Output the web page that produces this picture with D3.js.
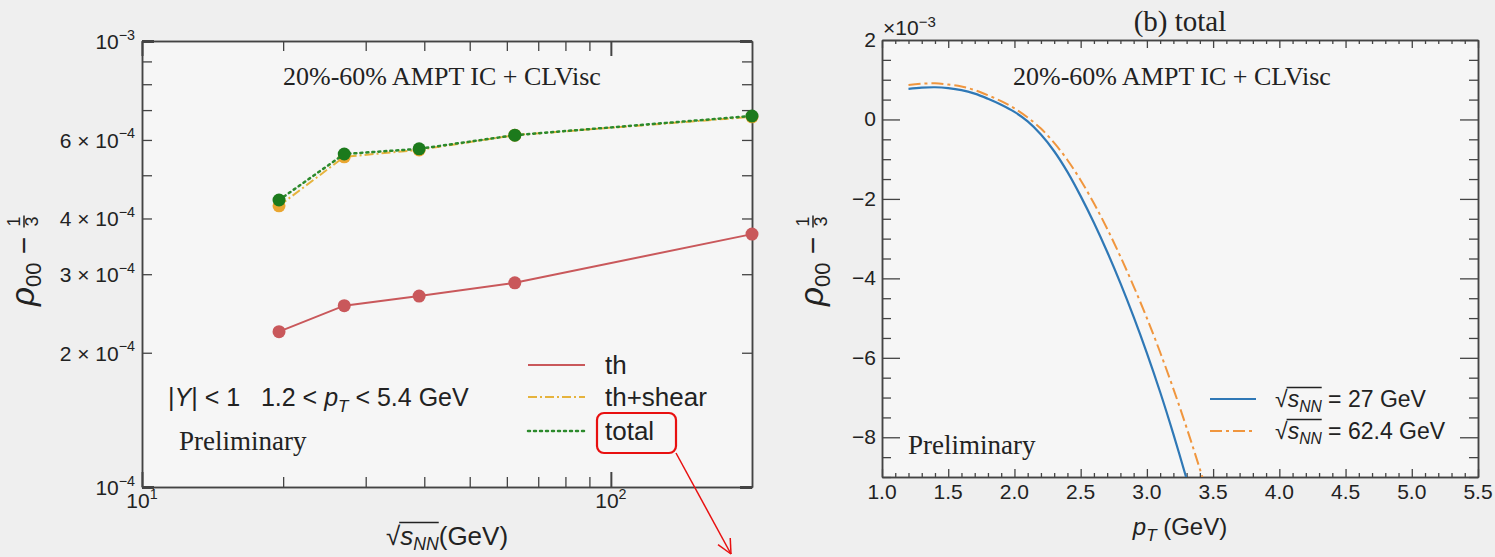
<!DOCTYPE html>
<html>
<head>
<meta charset="utf-8">
<script src="https://cdn.jsdelivr.net/npm/d3@7"></script>
<style>
  html, body { margin: 0; padding: 0; background: #efefef; }
  svg { display: block; }
  .sans { font-family: "Liberation Sans", Arial, sans-serif; fill: #222; }
  .serif { font-family: "Liberation Serif", "Times New Roman", serif; fill: #222; }
</style>
</head>
<body>
<svg id="chart" width="1495" height="557"></svg>
<script>
// ---- Panel (a): rho00 - 1/3 versus collision energy (log-log) ----
const energies   = [19.6, 27, 39, 62.4, 200];
const rhoTh      = [2.23e-4, 2.55e-4, 2.68e-4, 2.87e-4, 3.69e-4];
const rhoThShear = [4.27e-4, 5.50e-4, 5.70e-4, 6.15e-4, 6.76e-4];
const rhoTotal   = [4.40e-4, 5.58e-4, 5.73e-4, 6.15e-4, 6.79e-4];
const seriesNames = ["th", "th+shear", "total"];

const yTicksA = [1e-3, 6e-4, 4e-4, 3e-4, 2e-4, 1e-4];
const yTickLabelsA = [["", "−3"], ["6 × ", "−4"], ["4 × ", "−4"], ["3 × ", "−4"], ["2 × ", "−4"], ["", "−4"]];
const yMinorA = [9e-4, 8e-4, 7e-4, 5e-4];
const xTicksA = [10, 100];
const xTickLabelsA = ["1", "2"];
const xMinorA = [20, 30, 40, 50, 60, 70, 80, 90];

// ---- Panel (b): rho00 - 1/3 versus pT ----
const pT27   = [1.2, 1.3, 1.4, 1.5, 1.6, 1.7, 1.8, 1.9, 2.0, 2.1, 2.2, 2.3, 2.4, 2.5, 2.6, 2.7, 2.8, 2.9, 3.0, 3.1, 3.2, 3.3];
const rho27  = [0.77, 0.80, 0.81, 0.79, 0.74, 0.65, 0.52, 0.37, 0.19, -0.05, -0.38, -0.80, -1.32, -1.93, -2.6, -3.33, -4.12, -4.97, -5.88, -6.86, -7.92, -9.05];
const pT62   = [1.2, 1.3, 1.4, 1.5, 1.6, 1.7, 1.8, 1.9, 2.0, 2.1, 2.2, 2.3, 2.4, 2.5, 2.6, 2.7, 2.8, 2.9, 3.0, 3.1, 3.2, 3.3, 3.4, 3.5];
const rho62  = [0.87, 0.90, 0.91, 0.88, 0.83, 0.74, 0.61, 0.46, 0.28, 0.05, -0.23, -0.59, -1.02, -1.53, -2.11, -2.75, -3.45, -4.2, -5.0, -5.86, -6.78, -7.76, -8.8, -9.9];
const energyLabels = ["27 GeV", "62.4 GeV"];

const yTicksB = [2, 0, -2, -4, -6, -8];
const xTicksB = [1.0, 1.5, 2.0, 2.5, 3.0, 3.5, 4.0, 4.5, 5.0, 5.5];

const svg = d3.select("#chart");
const axisColor = "#444";

// plot frames
const A = { left: 142, right: 752, top: 41, bottom: 487 };
const B = { left: 882, right: 1478, top: 40, bottom: 477 };

const xA = d3.scaleLog().domain([10, 200]).range([A.left, A.right]);
const yA = d3.scaleLog().domain([1e-4, 1e-3]).range([A.bottom, A.top]);
const xB = d3.scaleLinear().domain([1.0, 5.5]).range([B.left, B.right]);
const yB = d3.scaleLinear().domain([-9, 2]).range([B.bottom, B.top]);

[A, B].forEach(P => {
  svg.append("rect").attr("x", P.left).attr("y", P.top)
    .attr("width", P.right - P.left).attr("height", P.bottom - P.top)
    .attr("fill", "#f6f6f6");
});

// draws a set of inward ticks with a d3 axis generator
function ticks(axisGen, tx, ty, width) {
  const g = svg.append("g").attr("transform", `translate(${tx},${ty})`).call(axisGen);
  g.selectAll("text").remove();
  g.select(".domain").attr("stroke", axisColor).attr("stroke-width", 1.5);
  g.selectAll(".tick line").attr("stroke", axisColor).attr("stroke-width", width || 1.3);
  return g;
}

// ---- panel (a) axes ----
const yRegA = yMinorA.concat([6e-4, 4e-4, 3e-4, 2e-4]);
ticks(d3.axisLeft(yA).tickValues(yRegA).tickSize(-10).tickSizeOuter(0).tickFormat(""), A.left, 0);
ticks(d3.axisRight(yA).tickValues(yRegA).tickSize(-10).tickSizeOuter(0).tickFormat(""), A.right, 0);
ticks(d3.axisLeft(yA).tickValues([1e-3, 1e-4]).tickSize(-12).tickSizeOuter(0).tickFormat(""), A.left, 0, 3);
ticks(d3.axisRight(yA).tickValues([1e-3, 1e-4]).tickSize(-12).tickSizeOuter(0).tickFormat(""), A.right, 0, 3);
ticks(d3.axisBottom(xA).tickValues(xMinorA).tickSize(-10).tickSizeOuter(0).tickFormat(""), 0, A.bottom);
ticks(d3.axisTop(xA).tickValues(xMinorA).tickSize(-10).tickSizeOuter(0).tickFormat(""), 0, A.top);
ticks(d3.axisBottom(xA).tickValues(xTicksA).tickSize(-15).tickSizeOuter(0).tickFormat(""), 0, A.bottom, 2);
ticks(d3.axisTop(xA).tickValues(xTicksA).tickSize(-15).tickSizeOuter(0).tickFormat(""), 0, A.top, 2);

function sciText(x, y, pre, exp, size, anchor) {
  const t = svg.append("text").attr("class", "sans").attr("x", x).attr("y", y)
    .attr("text-anchor", anchor).style("font-size", size + "px");
  t.append("tspan").text(pre + "10");
  t.append("tspan").attr("dy", -size * 0.45).style("font-size", (size * 0.68) + "px").text(exp);
  return t;
}

yTicksA.forEach((v, i) => {
  sciText(135, yA(v) + 8, yTickLabelsA[i][0], yTickLabelsA[i][1], 21, "end");
});
xTicksA.forEach((v, i) => {
  sciText(xA(v), 508, "", xTickLabelsA[i], 21, "middle");
});

// sqrt(s_NN) label with an overline over s_NN
function sqrtS(g, x, y, size, suffix, anchor) {
  const t = g.append("text").attr("class", "sans").attr("x", x).attr("y", y)
    .attr("text-anchor", anchor || "start").style("font-size", size + "px");
  t.append("tspan").text("√");
  t.append("tspan").style("font-style", "italic").text("s");
  t.append("tspan").style("font-style", "italic").style("font-size", (size * 0.68) + "px")
    .attr("dy", size * 0.2).text("NN");
  t.append("tspan").attr("dy", -size * 0.2).text(suffix);
  const n = t.node();
  const e0 = n.getExtentOfChar(0), e3 = n.getExtentOfChar(3);
  g.append("line")
    .attr("x1", e0.x + e0.width - 1).attr("x2", e3.x + e3.width)
    .attr("y1", e0.y + 1.5).attr("y2", e0.y + 1.5)
    .attr("stroke", "#222").attr("stroke-width", 1.4);
  return t;
}

sqrtS(svg, 447, 545, 26, "(GeV)", "middle");

// rho_00 - 1/3 rotated axis title
function rhoTitle(cx, by) {
  const g = svg.append("g").attr("transform", `translate(${cx},${by}) rotate(-90)`);
  const t = g.append("text").attr("class", "sans").attr("x", 0).attr("y", 0).style("font-size", "33px");
  t.append("tspan").style("font-style", "italic").text("ρ");
  t.append("tspan").style("font-size", "22px").attr("dy", 7).text("00");
  t.append("tspan").attr("dy", -7).style("font-size", "30px").text("\u00a0−\u00a0");
  const len = t.node().getComputedTextLength();
  const fx = len + 7;
  g.append("text").attr("class", "sans").attr("x", fx).attr("y", -14)
    .attr("text-anchor", "middle").style("font-size", "18px").text("1");
  g.append("line").attr("x1", fx - 6).attr("x2", fx + 6).attr("y1", -10).attr("y2", -10)
    .attr("stroke", "#222").attr("stroke-width", 1.5);
  g.append("text").attr("class", "sans").attr("x", fx).attr("y", 4)
    .attr("text-anchor", "middle").style("font-size", "18px").text("3");
}
rhoTitle(34, 306);
rhoTitle(823, 306);

// ---- panel (a) series ----
const colTh = "#c9585b", colShear = "#e6b33c", colShearDot = "#eaa630", colTotal = "#2c8a2c", colTotalDot = "#1c7a1c";
const lineA = d3.line().x(d => xA(d[0])).y(d => yA(d[1]));
const ptsTh = energies.map((e, i) => [e, rhoTh[i]]);
const ptsShear = energies.map((e, i) => [e, rhoThShear[i]]);
const ptsTotal = energies.map((e, i) => [e, rhoTotal[i]]);

svg.append("clipPath").attr("id", "clipA").append("rect")
  .attr("x", A.left).attr("y", A.top).attr("width", A.right - A.left + 8).attr("height", A.bottom - A.top);
const gA = svg.append("g").attr("clip-path", "url(#clipA)");

gA.append("path").attr("d", lineA(ptsTh)).attr("fill", "none").attr("stroke", colTh).attr("stroke-width", 2);
gA.selectAll(".mTh").data(ptsTh).join("circle").attr("cx", d => xA(d[0])).attr("cy", d => yA(d[1]))
  .attr("r", 6.5).attr("fill", colTh);

gA.append("path").attr("d", lineA(ptsShear)).attr("fill", "none").attr("stroke", colShear).attr("stroke-width", 2)
  .attr("stroke-dasharray", "9,3,2,3");
gA.selectAll(".mSh").data(ptsShear).join("circle").attr("cx", d => xA(d[0])).attr("cy", d => yA(d[1]))
  .attr("r", 6.5).attr("fill", colShearDot);

gA.append("path").attr("d", lineA(ptsTotal)).attr("fill", "none").attr("stroke", colTotal).attr("stroke-width", 2.5)
  .attr("stroke-dasharray", "2,4").attr("stroke-linecap", "round");
gA.selectAll(".mTo").data(ptsTotal).join("circle").attr("cx", d => xA(d[0])).attr("cy", d => yA(d[1]))
  .attr("r", 6.5).attr("fill", colTotalDot);

// panel (a) annotations
svg.append("text").attr("class", "serif").attr("x", 283).attr("y", 85).style("font-size", "26px")
  .text("20%-60% AMPT IC + CLVisc");
svg.append("text").attr("class", "serif").attr("x", 179).attr("y", 450).style("font-size", "27px").text("Preliminary");
{
  const t = svg.append("text").attr("class", "sans").attr("x", 168).attr("y", 406).style("font-size", "25px");
  t.append("tspan").text("|");
  t.append("tspan").style("font-style", "italic").text("Y");
  t.append("tspan").text("| < 1\u00a0\u00a0 1.2 < ");
  t.append("tspan").style("font-style", "italic").text("p");
  t.append("tspan").style("font-style", "italic").style("font-size", "17px").attr("dy", 6).text("T");
  t.append("tspan").attr("dy", -6).text(" < 5.4 GeV");
}

// legend (a)
const legA = [
  { name: seriesNames[0], color: colTh, dash: null, w: 2, y: 365 },
  { name: seriesNames[1], color: colShear, dash: "9,3,2,3", w: 2, y: 397 },
  { name: seriesNames[2], color: colTotal, dash: "2,4", w: 2.5, y: 431 }
];
legA.forEach(l => {
  svg.append("line").attr("x1", 528).attr("x2", 585).attr("y1", l.y).attr("y2", l.y)
    .attr("stroke", l.color).attr("stroke-width", l.w).attr("stroke-dasharray", l.dash)
    .attr("stroke-linecap", l.dash === "2,4" ? "round" : "butt");
  svg.append("text").attr("class", "sans").attr("x", 605).attr("y", l.y + 9).style("font-size", "26px").text(l.name);
});

// highlight box and arrow
svg.append("rect").attr("x", 597).attr("y", 413).attr("width", 79).attr("height", 40).attr("rx", 7)
  .attr("fill", "none").attr("stroke", "#e81010").attr("stroke-width", 2.2);
{
  const x1 = 676, y1 = 453, x2 = 731, y2 = 554;
  svg.append("line").attr("x1", x1).attr("y1", y1).attr("x2", x2).attr("y2", y2)
    .attr("stroke", "#e81010").attr("stroke-width", 1.5);
  const ang = Math.atan2(y2 - y1, x2 - x1);
  [-0.45, 0.45].forEach(da => {
    svg.append("line").attr("x1", x2).attr("y1", y2)
      .attr("x2", x2 - 16 * Math.cos(ang + da)).attr("y2", y2 - 16 * Math.sin(ang + da))
      .attr("stroke", "#e81010").attr("stroke-width", 1.5);
  });
}

// ---- panel (b) axes ----
const yMinorB = d3.range(-9, 2.01, 0.5).filter(v => Math.abs(v % 2) > 1e-9);
const xMinorB = d3.range(1.0, 5.501, 0.1).filter(v => Math.abs(Math.round(v * 10) % 5) !== 0);
ticks(d3.axisLeft(yB).tickValues(yMinorB).tickSize(-9).tickSizeOuter(0).tickFormat(""), B.left, 0);
ticks(d3.axisRight(yB).tickValues(yMinorB).tickSize(-9).tickSizeOuter(0).tickFormat(""), B.right, 0);
ticks(d3.axisLeft(yB).tickValues(yTicksB).tickSize(-18).tickSizeOuter(0).tickFormat(""), B.left, 0);
ticks(d3.axisRight(yB).tickValues(yTicksB).tickSize(-18).tickSizeOuter(0).tickFormat(""), B.right, 0);
ticks(d3.axisBottom(xB).tickValues(xMinorB).tickSize(-4).tickSizeOuter(0).tickFormat(""), 0, B.bottom);
ticks(d3.axisTop(xB).tickValues(xMinorB).tickSize(-4).tickSizeOuter(0).tickFormat(""), 0, B.top);
ticks(d3.axisBottom(xB).tickValues(xTicksB).tickSize(-8).tickSizeOuter(0).tickFormat(""), 0, B.bottom);
ticks(d3.axisTop(xB).tickValues(xTicksB).tickSize(-8).tickSizeOuter(0).tickFormat(""), 0, B.top);

yTicksB.forEach(v => {
  svg.append("text").attr("class", "sans").attr("x", 876).attr("y", yB(v) + 7)
    .attr("text-anchor", "end").style("font-size", "21px")
    .text(v < 0 ? "−" + Math.abs(v) : String(v));
});
xTicksB.forEach(v => {
  svg.append("text").attr("class", "sans").attr("x", xB(v)).attr("y", 499)
    .attr("text-anchor", "middle").style("font-size", "21px").text(v.toFixed(1));
});
{
  const t = svg.append("text").attr("class", "sans").attr("x", 883).attr("y", 35).style("font-size", "21px");
  t.append("tspan").text("×10");
  t.append("tspan").attr("dy", -8).style("font-size", "15px").text("−3");
}
{
  const t = svg.append("text").attr("class", "sans").attr("x", 1180).attr("y", 535)
    .attr("text-anchor", "middle").style("font-size", "24px");
  t.append("tspan").style("font-style", "italic").text("p");
  t.append("tspan").style("font-style", "italic").style("font-size", "17px").attr("dy", 6).text("T");
  t.append("tspan").attr("dy", -6).text(" (GeV)");
}
svg.append("text").attr("class", "serif").attr("x", 1180).attr("y", 31).attr("text-anchor", "middle")
  .style("font-size", "29px").text("(b) total");
svg.append("text").attr("class", "serif").attr("x", 1013).attr("y", 85).style("font-size", "26px")
  .text("20%-60% AMPT IC + CLVisc");
svg.append("text").attr("class", "serif").attr("x", 908).attr("y", 454).style("font-size", "27px").text("Preliminary");

// ---- panel (b) curves ----
const col27 = "#2f78b6", col62 = "#f0963e";
svg.append("clipPath").attr("id", "clipB").append("rect")
  .attr("x", B.left).attr("y", B.top).attr("width", B.right - B.left).attr("height", B.bottom - B.top);
const gB = svg.append("g").attr("clip-path", "url(#clipB)");
const lineB = d3.line().x(d => xB(d[0])).y(d => yB(d[1])).curve(d3.curveCatmullRom);
gB.append("path").attr("d", lineB(pT62.map((p, i) => [p, rho62[i]]))).attr("fill", "none")
  .attr("stroke", col62).attr("stroke-width", 2).attr("stroke-dasharray", "12,4,3,4");
gB.append("path").attr("d", lineB(pT27.map((p, i) => [p, rho27[i]]))).attr("fill", "none")
  .attr("stroke", col27).attr("stroke-width", 2.2);

// legend (b)
const legB = [
  { label: energyLabels[0], color: col27, dash: null, y: 399 },
  { label: energyLabels[1], color: col62, dash: "12,4,3,4", y: 431 }
];
legB.forEach(l => {
  svg.append("line").attr("x1", 1210).attr("x2", 1256).attr("y1", l.y).attr("y2", l.y)
    .attr("stroke", l.color).attr("stroke-width", 2.2).attr("stroke-dasharray", l.dash);
  sqrtS(svg, 1275, l.y + 8, 23, " = " + l.label, "start");
});
</script>
</body>
</html>
